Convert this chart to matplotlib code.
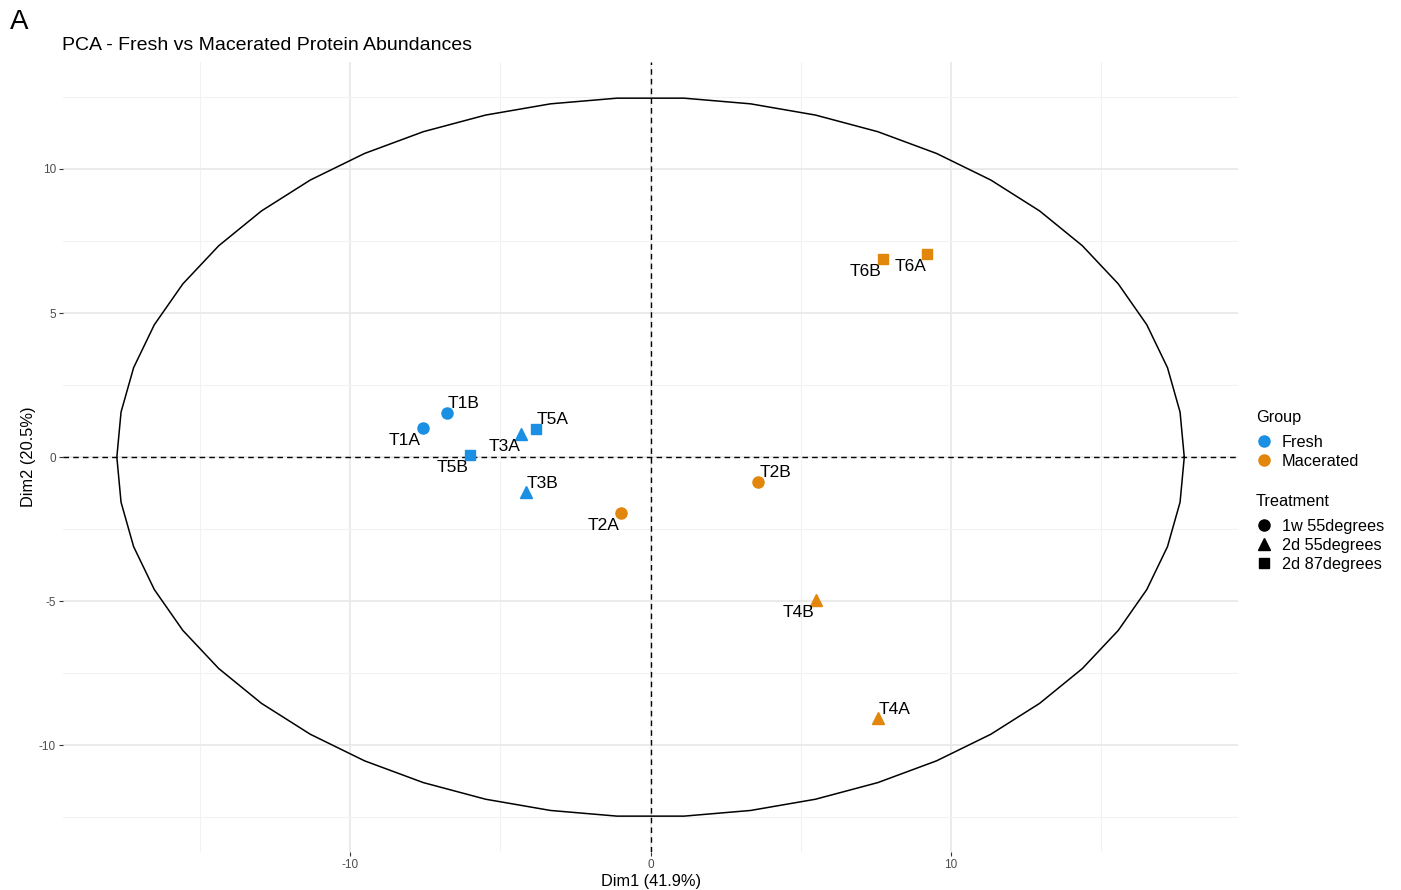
import matplotlib
matplotlib.use("Agg")
import matplotlib.pyplot as plt
import numpy as np
from matplotlib.lines import Line2D

plt.rcParams['font.family'] = ['Liberation Sans', 'DejaVu Sans']
plt.rcParams['axes.unicode_minus'] = False

# data
samples = ["T1A", "T1B", "T5B", "T3A", "T5A", "T3B", "T2A", "T2B", "T4B", "T4A", "T6B", "T6A"]
dim1 = [-7.58, -6.78, -6.02, -4.32, -3.82, -4.16, -1.00, 3.59, 5.49, 7.58, 7.72, 9.21]
dim2 = [1.00, 1.52, 0.07, 0.80, 0.97, -1.21, -1.94, -0.87, -4.96, -9.05, 6.86, 7.04]
group = ["Fresh", "Fresh", "Fresh", "Fresh", "Fresh", "Fresh",
         "Macerated", "Macerated", "Macerated", "Macerated", "Macerated", "Macerated"]
treatment = ["1w 55degrees", "1w 55degrees", "2d 87degrees", "2d 55degrees", "2d 87degrees", "2d 55degrees",
             "1w 55degrees", "1w 55degrees", "2d 55degrees", "2d 55degrees", "2d 87degrees", "2d 87degrees"]
ellipse_rx = 17.76
ellipse_ry = 12.48

groups = ["Fresh", "Macerated"]
treatments = ["1w 55degrees", "2d 55degrees", "2d 87degrees"]
colors = {"Fresh": "#1a8fe3", "Macerated": "#e2860c"}
markers = {"1w 55degrees": "o", "2d 55degrees": "^", "2d 87degrees": "s"}
msize = {"o": 8, "^": 9, "s": 7.5}

# label offsets in points (repel-like placement)
lab_off = {"T1A": (-13, -9), "T1B": (12, 7), "T5B": (-12, -9), "T3A": (-12, -9),
           "T5A": (12, 7), "T3B": (12, 6), "T2A": (-12, -9), "T2B": (12, 7),
           "T4B": (-12, -9), "T4A": (12, 6), "T6B": (-12, -9), "T6A": (-12, -9)}

fig = plt.figure(figsize=(14.01, 8.9), dpi=100)
ax = fig.add_axes([0.045, 0.0427, 0.8387, 0.8873])

ax.set_xlim(-19.55, 19.55)
ax.set_ylim(-13.7, 13.7)

# grid (theme_minimal style)
ax.set_xticks([-10, 0, 10])
ax.set_yticks([-10, -5, 0, 5, 10])
ax.set_xticks([-15, -5, 5, 15], minor=True)
ax.set_yticks([-12.5, -7.5, -2.5, 2.5, 7.5, 12.5], minor=True)
ax.grid(which='major', color='#e8e8e8', linewidth=1.2)
ax.grid(which='minor', color='#f2f2f2', linewidth=0.8)
ax.set_axisbelow(True)
for s in ax.spines.values():
    s.set_visible(False)
ax.tick_params(which='major', length=3, color='#333333', labelsize=8.5, labelcolor='#4d4d4d', pad=2)
ax.tick_params(which='minor', length=0)

ax.axhline(0, color='black', linestyle='--', linewidth=1, dashes=(4, 3))
ax.axvline(0, color='black', linestyle='--', linewidth=1, dashes=(4, 3))

t = np.linspace(0, 2 * np.pi, 51)
ax.plot(ellipse_rx * np.cos(t), ellipse_ry * np.sin(t), color='black', linewidth=1.1)

for name, x, y, g, tr in zip(samples, dim1, dim2, group, treatment):
    m = markers[tr]
    ax.plot(x, y, marker=m, color=colors[g], markersize=msize[m], linestyle='none', zorder=3)
    dx, dy = lab_off[name]
    ax.annotate(name, (x, y), xytext=(dx, dy), textcoords='offset points',
                ha='center', va='center', fontsize=12.5, color='black')

ax.set_xlabel("Dim1 (41.9%)", fontsize=11.8, labelpad=2)
ax.set_ylabel("Dim2 (20.5%)", fontsize=11.8, labelpad=2)
ax.set_title("PCA - Fresh vs Macerated Protein Abundances", fontsize=14, loc='left', x=-0.001, pad=9)
fig.text(0.007, 0.975, "A", fontsize=20, va='center', ha='left')

# legends
gh = [Line2D([], [], marker='o', color=colors[g], linestyle='none', markersize=8) for g in groups]
leg1 = fig.legend(gh, groups, title="Group", loc='upper left', bbox_to_anchor=(0.8965, 0.539),
                  frameon=False, fontsize=11.7, title_fontsize=11.7, handletextpad=0.6,
                  labelspacing=0.25, borderaxespad=0, borderpad=0, handlelength=1.0)
leg1._legend_box.align = "left"
leg1._legend_box.sep = 7
th = [Line2D([], [], marker=markers[tr], color='black', linestyle='none', markersize=msize[markers[tr]])
      for tr in treatments]
leg2 = fig.legend(th, treatments, title="Treatment", loc='upper left', bbox_to_anchor=(0.8965, 0.445),
                  frameon=False, fontsize=11.7, title_fontsize=11.7, handletextpad=0.6,
                  labelspacing=0.25, borderaxespad=0, borderpad=0, handlelength=1.0)
leg2._legend_box.align = "left"
leg2._legend_box.sep = 7

fig.savefig("out.png", dpi=100)
